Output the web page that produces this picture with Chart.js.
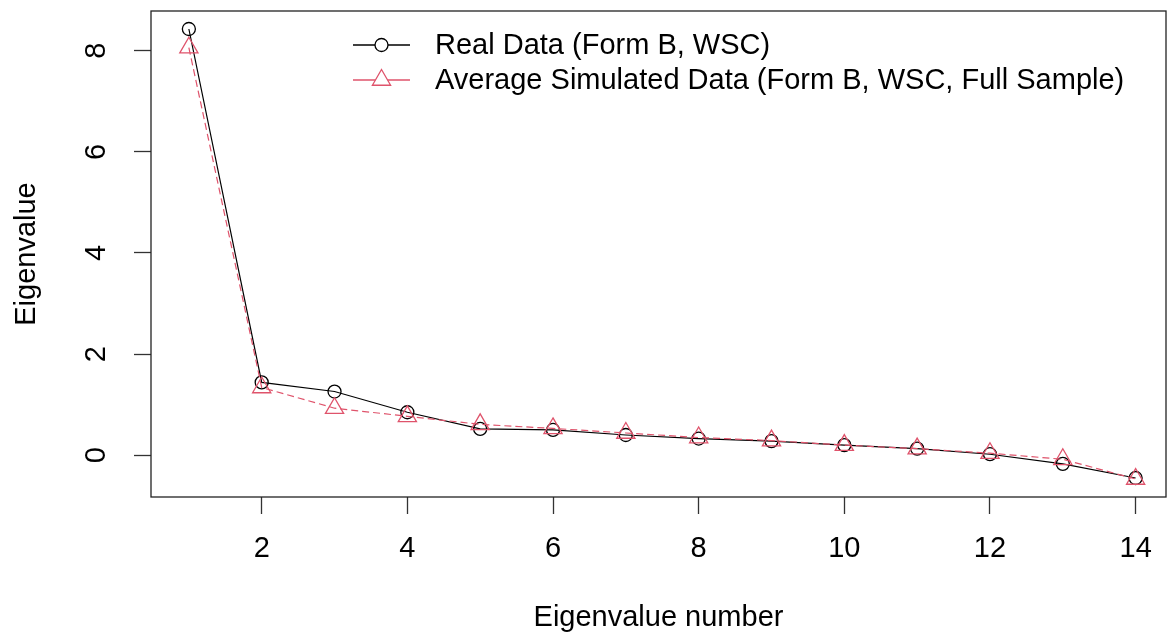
<!DOCTYPE html>
<html><head><meta charset="utf-8">
<script src="https://cdn.jsdelivr.net/npm/chart.js@4.4.1/dist/chart.umd.min.js"></script>
<style>html,body{margin:0;padding:0;background:#fff;overflow:hidden}canvas{display:block}</style>
</head><body>
<canvas id="c" width="1169" height="637"></canvas>
<script>
// ---- data ----
const eigenNumbers = [1,2,3,4,5,6,7,8,9,10,11,12,13,14];
const realData = [8.43,1.44,1.26,0.85,0.52,0.50,0.40,0.33,0.28,0.20,0.13,0.02,-0.17,-0.45];
const simulatedData = [8.06,1.34,0.93,0.77,0.61,0.53,0.44,0.35,0.29,0.20,0.13,0.04,-0.08,-0.47];
const xTickValues = [2,4,6,8,10,12,14];
const yTickValues = [0,2,4,6,8];
const seriesLabels = ['Real Data (Form B, WSC)','Average Simulated Data (Form B, WSC, Full Sample)'];
const xAxisTitle = 'Eigenvalue number';
const yAxisTitle = 'Eigenvalue';

const FONT = '"Liberation Sans", Arial, sans-serif';
const FSIZE = 29;
const RED = '#DF536B';
Chart.defaults.font.family = FONT;
Chart.defaults.font.size = FSIZE;
Chart.defaults.color = '#000';

const toXY = arr => eigenNumbers.map((x,i)=>({x:x,y:arr[i]}));

const boxPlugin = {
  id:'box',
  afterDraw(chart){
    const a = chart.chartArea, ctx = chart.ctx;
    ctx.save();
    ctx.strokeStyle = '#222'; ctx.lineWidth = 1.3;
    ctx.strokeRect(a.left, a.top, a.right-a.left, a.bottom-a.top);
    ctx.restore();
  }
};

const legendPlugin = {
  id:'rlegend',
  afterDraw(chart){
    const ctx = chart.ctx;
    const items = [
      {label:seriesLabels[0], color:'#000', y:45, marker:'circle'},
      {label:seriesLabels[1], color:RED, y:80, marker:'triangle'}
    ];
    ctx.save();
    items.forEach(it=>{
      ctx.strokeStyle = it.color; ctx.lineWidth = 1.3; ctx.setLineDash([]);
      ctx.beginPath(); ctx.moveTo(353, it.y); ctx.lineTo(410, it.y); ctx.stroke();
      ctx.fillStyle = '#fff';
      const cx = 381.5;
      if (it.marker==='circle'){
        ctx.beginPath(); ctx.arc(cx, it.y, 6.5, 0, Math.PI*2); ctx.fill(); ctx.stroke();
      } else {
        const r = 10.5;
        ctx.beginPath();
        ctx.moveTo(cx, it.y - r);
        ctx.lineTo(cx + r*Math.sqrt(3)/2, it.y + r/2);
        ctx.lineTo(cx - r*Math.sqrt(3)/2, it.y + r/2);
        ctx.closePath(); ctx.fill(); ctx.stroke();
      }
      ctx.fillStyle = '#000';
      ctx.font = FSIZE + 'px ' + FONT;
      ctx.textBaseline = 'middle'; ctx.textAlign = 'left';
      ctx.fillText(it.label, 435, it.y + 1);
    });
    ctx.restore();
  }
};

new Chart(document.getElementById('c'), {
  type:'line',
  data:{
    datasets:[
      {
        label: seriesLabels[1], data: toXY(simulatedData), order:0,
        borderColor: RED, borderWidth:1.2, borderDash:[7,4],
        pointStyle:'triangle', pointRadius:10.5, pointBorderColor:RED,
        pointBackgroundColor:'rgba(0,0,0,0)', pointBorderWidth:1.3,
        tension:0, fill:false
      },
      {
        label: seriesLabels[0], data: toXY(realData), order:1,
        borderColor:'#000', borderWidth:1.2,
        pointStyle:'circle', pointRadius:6.5, pointBorderColor:'#000',
        pointBackgroundColor:'rgba(0,0,0,0)', pointBorderWidth:1.3,
        tension:0, fill:false
      }
    ]
  },
  options:{
    responsive:false, animation:false, devicePixelRatio:1,
    layout:{autoPadding:false, padding:{top:11,right:3,left:0,bottom:0}},
    plugins:{legend:{display:false}, tooltip:{enabled:false}},
    scales:{
      x:{
        type:'linear', min:0.48, max:14.417,
        afterBuildTicks: ax => { ax.ticks = xTickValues.map(v=>({value:v})); },
        afterFit: ax => { ax.height = 140; ax.paddingLeft = 0; ax.paddingRight = 0; },
        border:{display:false},
        grid:{display:true, drawOnChartArea:false, drawTicks:true, tickLength:17, tickColor:'#333', tickWidth:1.3},
        ticks:{padding:18, maxRotation:0, autoSkip:false, color:'#000', font:{size:FSIZE}},
        title:{display:true, text:xAxisTitle, color:'#000', font:{size:FSIZE}, padding:{top:0,bottom:2}}
      },
      y:{
        type:'linear', min:-0.826, max:8.786,
        afterBuildTicks: ax => { ax.ticks = yTickValues.map(v=>({value:v})); },
        afterFit: ax => { ax.width = 151; ax.paddingTop = 0; ax.paddingBottom = 0; },
        border:{display:false},
        grid:{display:true, drawOnChartArea:false, drawTicks:true, tickLength:17, tickColor:'#333', tickWidth:1.3},
        ticks:{padding:29, minRotation:90, maxRotation:90, crossAlign:'center', autoSkip:false, color:'#000', font:{size:FSIZE}},
        title:{display:true, text:yAxisTitle, color:'#000', font:{size:FSIZE}, padding:{top:10,bottom:0}}
      }
    }
  },
  plugins:[boxPlugin, legendPlugin]
});
</script>
</body></html>
